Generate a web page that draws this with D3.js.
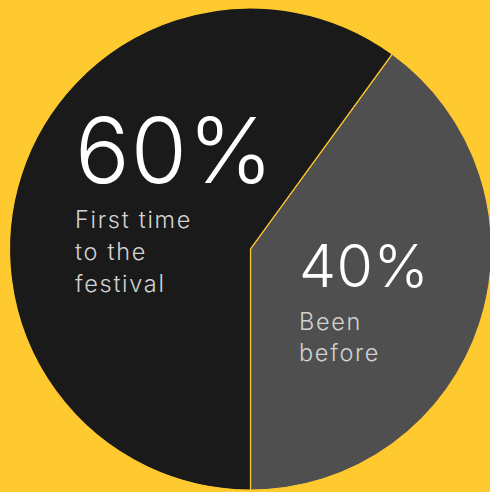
<!DOCTYPE html>
<html>
<head>
<meta charset="utf-8">
<script src="https://cdn.jsdelivr.net/npm/d3@7/dist/d3.min.js"></script>
<style>
  html, body { margin: 0; padding: 0; background: #FFCA2F; }
  svg { display: block; }
  text { font-family: "Inter", "Lato", sans-serif; }
</style>
</head>
<body>
<svg id="chart" width="490" height="492"></svg>
<script>
// Festival attendance split
const categories = ["Been before", "First time to the festival"];
const values = [40, 60];
const percentLabels = ["40%", "60%"];
const labelLines = [["Been", "before"], ["First time", "to the", "festival"]];
const colors = ["#4F4F4F", "#1A1A1A"];

const width = 490, height = 492;
const cx = 250.5, cy = 249, radius = 241;

const svg = d3.select("#chart");
svg.append("rect").attr("width", width).attr("height", height).attr("fill", "#FFCA2F");

// first slice ends at the bottom (angle π), going clockwise
const total = d3.sum(values);
const start = Math.PI - 2 * Math.PI * values[0] / total;
const pie = d3.pie().sort(null).value(d => d).startAngle(start).endAngle(start + 2 * Math.PI);
const arc = d3.arc().innerRadius(0).outerRadius(radius);

const g = svg.append("g").attr("transform", `translate(${cx},${cy})`);
g.selectAll("path")
  .data(pie(values))
  .join("path")
  .attr("d", arc)
  .attr("fill", (d, i) => colors[i])
  .attr("stroke", "#FFCA2F")
  .attr("stroke-width", 1.2);

// label blocks: x, percent baseline and size, text size, first text baseline, line step
const labelLayout = [
  { x: 299, py: 287, ps: 59, ts: 23.5, ty: 330, step: 31 },
  { x: 75, py: 183, ps: 91, ts: 23.5, ty: 228, step: 32 }
];

labelLayout.forEach((L, i) => {
  svg.append("text")
    .attr("x", L.x).attr("y", L.py)
    .attr("fill", "#FFFFFF")
    .attr("font-size", L.ps)
    .attr("font-weight", 300)
    .attr("letter-spacing", i === 1 ? 1 : 0.5)
    .text(percentLabels[i]);
  const t = svg.append("text")
    .attr("fill", "#D2D2D2")
    .attr("font-size", L.ts)
    .attr("font-weight", 300)
    .attr("letter-spacing", 1.7);
  labelLines[i].forEach((line, j) => {
    t.append("tspan").attr("x", L.x).attr("y", L.ty + j * L.step).text(line);
  });
});
</script>
</body>
</html>
